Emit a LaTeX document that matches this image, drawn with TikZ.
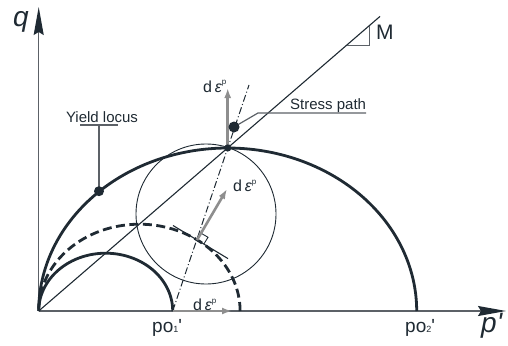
\documentclass[tikz,border=0pt]{standalone}
\usepackage{fontspec}
\setmainfont{Liberation Sans}
\usetikzlibrary{arrows.meta}
\definecolor{ink}{HTML}{1F2A33}
\definecolor{garrow}{HTML}{8E8E8E}
\definecolor{axisc}{HTML}{5C6167}
\newcommand{\deps}[1]{d\,{\itshape ε}\raisebox{#1}{\fontsize{8}{8}\selectfont p}}
\begin{document}
\begin{tikzpicture}[x=1pt,y=-1pt,
  thickcurve/.style={ink, line width=2.8pt},
  dashcurve/.style={ink, line width=2.8pt, dash pattern=on 9pt off 4.5pt},
  thinline/.style={ink, line width=1pt},
  axisline/.style={axisc, line width=1.3pt},
  axistip/.style={-{Stealth[length=28pt,width=10pt,inset=3pt,color=ink]}},
  grayarrow/.style={garrow, line width=2.6pt, -{Latex[length=10pt,width=7pt]}},
  leader/.style={axisc, line width=1.2pt},
  lbl/.style={font=\fontsize{15}{18}\selectfont, text=ink, inner sep=0pt},
  dlbl/.style={font=\fontsize{16}{18}\selectfont, text=ink, inner sep=0pt, anchor=base west},
  big/.style={font=\fontsize{28}{28}\selectfont\itshape, text=ink, inner sep=0pt, anchor=base west},
  polbl/.style={font=\fontsize{19}{20}\selectfont, text=ink, inner sep=0pt, anchor=base west},
  dotc/.style={fill=ink}
]
\useasboundingbox (0,0) rectangle (508,345);
% key points
\coordinate (O) at (38.7,311);
\coordinate (P1) at (172.7,311);
\coordinate (P2) at (416.7,311);
\coordinate (S) at (227.7,148);
\coordinate (Mend) at (380,16.4);
\coordinate (qtip) at (38.7,7);
\coordinate (ptip) at (506,311);
% axes
\draw[axisline, axistip] (O) -- (qtip);
\draw[axisline, axistip] (O) -- (ptip);
% CSL line and slope triangle
\draw[thinline, line width=1.1pt] (O) -- (Mend);
\coordinate (T1) at (347.3,45);
\coordinate (T2) at (369,45);
\coordinate (T3) at (369,26.3);
\draw[axisc, line width=0.9pt] (T1) -- (T2) -- (T3);
% circle
\coordinate (C) at (206,214);
\draw[thinline, line width=0.9pt] (C) circle[radius=70pt];
% yield loci
\draw[thickcurve] plot[domain=0:180,samples=150] ({227.7+189*cos(\x)},{311-163*sin(\x)});
\draw[thickcurve] plot[domain=0:180,samples=100] ({105.7+67*cos(\x)},{311-57.8*sin(\x)});
\draw[dashcurve] plot[domain=0:180,samples=120] ({139.4+100.7*cos(\x)},{311-86.8*sin(\x)});
% dash-dot normal line through stress point
\coordinate (DD) at (249,85);
\draw[thinline, dash pattern=on 7pt off 2.5pt on 1pt off 2.5pt] (P1) -- (DD);
% tangent and normal on dashed locus
\coordinate (N0) at (197,240);
\coordinate (Ta) at (173,225.5);
\coordinate (Tb) at (228,258.6);
\coordinate (N1) at (227,189);
\draw[thinline, line width=1.1pt] (Ta) -- (Tb);
\coordinate (R1) at (201.1,233.2);
\coordinate (R2) at (208,237.3);
\coordinate (R3) at (203.8,244.1);
\draw[thinline, line width=0.9pt] (R1) -- (R2) -- (R3);
% gray plastic strain increment arrows
\coordinate (A1) at (227.7,88);
\coordinate (A2) at (232,311);
\draw[grayarrow] (S) -- (A1);
\draw[grayarrow] (P1) -- (A2);
\draw[grayarrow] (N0) -- (N1);
% dots and leaders
\coordinate (YD) at (99,191.2);
\coordinate (YL) at (99,125);
\coordinate (YU1) at (80,125);
\coordinate (YU2) at (118,125);
\draw[leader] (YD) -- (YL);
\draw[leader] (YU1) -- (YU2);
\coordinate (SD) at (234,127);
\coordinate (SK) at (258,113);
\coordinate (SE) at (366,113);
\draw[leader] (SD) -- (SK) -- (SE);
\fill[dotc] (S) circle[radius=3.6pt];
\fill[dotc] (YD) circle[radius=5pt];
\fill[dotc] (SD) circle[radius=5.5pt];
% labels
\node[lbl, anchor=base] (ylab) at (102,122.5) {Yield locus};
\node[lbl, anchor=base west] (slab) at (290,109) {Stress path};
\node[font=\fontsize{21}{21}\selectfont, text=ink, inner sep=0pt, anchor=base west] (mlab) at (376,40) {M};
\node[big] (qlab) at (13,27) {q};
\node[big] (plab) at (481,332) {p\textquotesingle};
\node[polbl] (p1lab) at (152,332) {po{\fontsize{9}{9}\selectfont 1}\textquotesingle};
\node[polbl] (p2lab) at (405,332) {po{\fontsize{9}{9}\selectfont 2}\textquotesingle};
\node[dlbl] (d1) at (203,92) {\deps{7pt}};
\node[dlbl] (d2) at (233,191.7) {\deps{7pt}};
\node[dlbl] (d3) at (193,310) {\deps{7pt}};
\end{tikzpicture}
\end{document}
